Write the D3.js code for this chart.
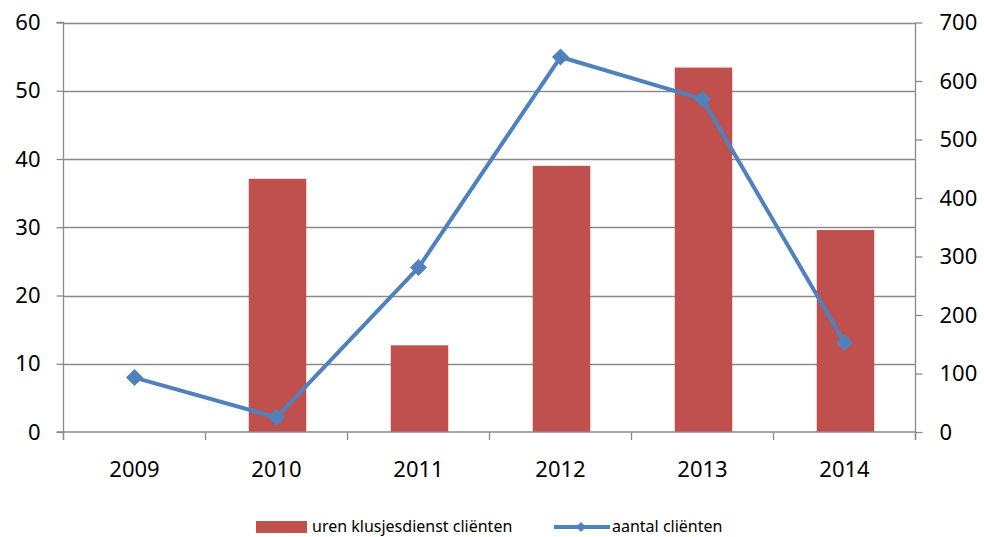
<!DOCTYPE html>
<html>
<head>
<meta charset="utf-8">
<script src="https://cdn.jsdelivr.net/npm/d3@7"></script>
<style>
  html, body { margin: 0; padding: 0; background: #fff; }
  svg { display: block; font-family: "Noto Sans", "Open Sans", sans-serif; }
</style>
</head>
<body>
<svg id="chart" width="984" height="537"></svg>
<script>
// Jaren en waarden
const years = ["2009", "2010", "2011", "2012", "2013", "2014"];
const urenKlusjesdienst = [0, 37.1, 12.7, 39.0, 53.4, 29.6];
const aantalClienten = [93, 25, 281, 641, 569, 153];
const leftTicks = [0, 10, 20, 30, 40, 50, 60];
const rightTicks = [0, 100, 200, 300, 400, 500, 600, 700];
const legendLabels = ["uren klusjesdienst cliënten", "aantal cliënten"];

const barColor = "#C0504D";
const lineColor = "#4F81BD";
const gridColor = "#8a8a8a";

const W = 984, H = 537;
const m = { left: 63.5, right: 68.5, top: 22.5, bottom: 105 };
const x0 = m.left, x1 = W - m.right, y0 = H - m.bottom, y1 = m.top;

const svg = d3.select("#chart");

const x = d3.scaleBand().domain(years).range([x0, x1]).padding(0);
const yL = d3.scaleLinear().domain([0, 60]).range([y0, y1]);
const yR = d3.scaleLinear().domain([0, 700]).range([y0, y1]);

// Horizontale rasterlijnen (linker as)
svg.append("g")
  .selectAll("line")
  .data(leftTicks.filter(d => d > 0))
  .join("line")
  .attr("x1", x0).attr("x2", x1)
  .attr("y1", d => Math.round(yL(d)) + 0.5).attr("y2", d => Math.round(yL(d)) + 0.5)
  .attr("stroke", gridColor).attr("stroke-width", 1.3);

// Staven
const bw = x.bandwidth() * 0.405;
svg.append("g")
  .selectAll("rect")
  .data(years.map((y, i) => ({ y, v: urenKlusjesdienst[i] })))
  .join("rect")
  .attr("x", d => x(d.y) + x.bandwidth() / 2 - bw / 2 + 1)
  .attr("width", bw)
  .attr("y", d => yL(d.v))
  .attr("height", d => y0 - yL(d.v))
  .attr("fill", barColor);

// Linker as
const axL = svg.append("g").attr("transform", `translate(${x0},0)`)
  .call(d3.axisLeft(yL).tickValues(leftTicks).tickSize(7).tickPadding(16));
// Rechter as
const axR = svg.append("g").attr("transform", `translate(${x1},0)`)
  .call(d3.axisRight(yR).tickValues(rightTicks).tickSize(7).tickPadding(17));
// X-as met streepjes op de categoriegrenzen
const axB = svg.append("g").attr("transform", `translate(0,${y0})`)
  .call(d3.axisBottom(x).tickSize(0).tickPadding(29));

[axL, axR, axB].forEach(g => {
  g.select(".domain").attr("stroke", gridColor).attr("stroke-width", 1.3);
  g.selectAll(".tick line").attr("stroke", gridColor).attr("stroke-width", 1.3);
  g.selectAll("text").attr("font-size", 22).attr("fill", "#000")
    .attr("font-family", "'Noto Sans', 'Open Sans', sans-serif");
});
axL.select(".domain").attr("d", `M-7,${y1}H0V${y0 + 8}`);
axR.select(".domain").attr("d", `M0,${y1}V${y0 + 8}`);
axB.select(".domain").attr("d", `M${x0 - 7},0H${x1}`);

const bounds = years.map(y => x(y)).concat([x1]);
svg.append("g")
  .selectAll("line")
  .data(bounds)
  .join("line")
  .attr("x1", d => d).attr("x2", d => d)
  .attr("y1", y0).attr("y2", y0 + 8)
  .attr("stroke", gridColor).attr("stroke-width", 1.3);

// Lijn met ruitmarkeringen (rechter as)
const pts = years.map((y, i) => [x(y) + x.bandwidth() / 2, yR(aantalClienten[i])]);
svg.append("path")
  .attr("d", d3.line()(pts))
  .attr("fill", "none")
  .attr("stroke", lineColor)
  .attr("stroke-width", 4)
  .attr("stroke-linejoin", "round");

const diamond = s => `M0,${-s}L${s},0L0,${s}L${-s},0Z`;
svg.append("g")
  .selectAll("path")
  .data(pts)
  .join("path")
  .attr("transform", d => `translate(${d[0]},${d[1]})`)
  .attr("d", diamond(8.5))
  .attr("fill", lineColor);

// Legenda
const lg = svg.append("g").attr("font-size", 16).attr("fill", "#000");
lg.append("rect").attr("x", 256).attr("y", 521).attr("width", 51).attr("height", 12).attr("fill", barColor);
lg.append("text").attr("x", 312).attr("y", 532).text(legendLabels[0]);
lg.append("line").attr("x1", 554).attr("x2", 610).attr("y1", 527).attr("y2", 527)
  .attr("stroke", lineColor).attr("stroke-width", 4);
lg.append("path").attr("transform", "translate(581,527)").attr("d", diamond(5)).attr("fill", lineColor);
lg.append("text").attr("x", 612).attr("y", 532).text(legendLabels[1]);
</script>
</body>
</html>
